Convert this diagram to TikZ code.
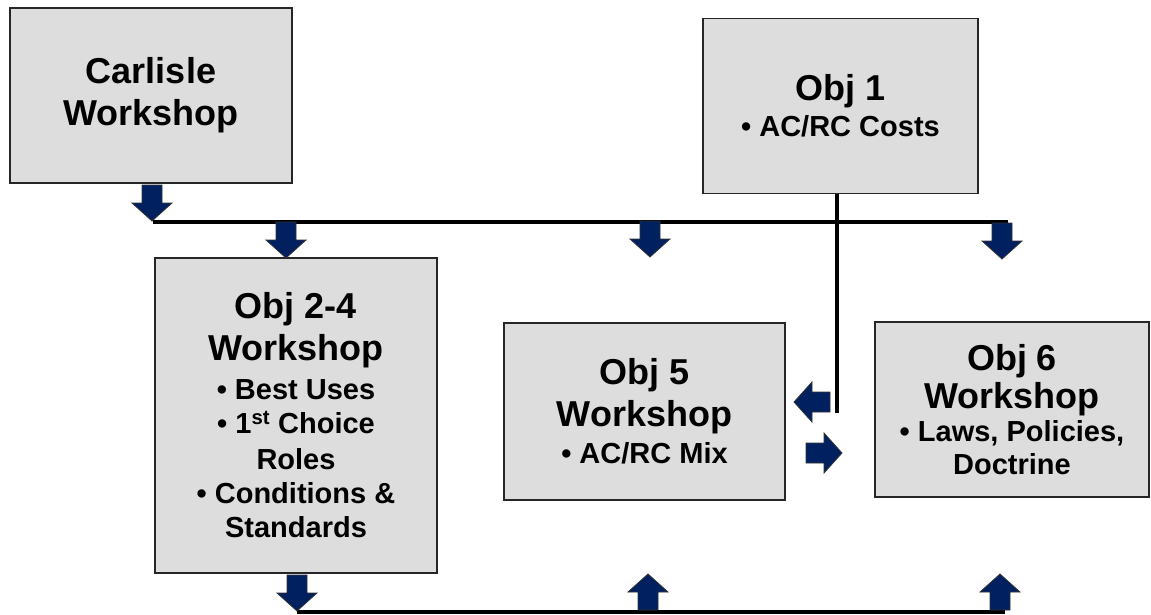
\documentclass[tikz,border=0pt]{standalone}
\usepackage{fontspec}
\setmainfont{Liberation Sans}
\usetikzlibrary{positioning}
\definecolor{navy}{RGB}{0,32,96}
\definecolor{boxgray}{RGB}{221,221,221}
\newcommand{\boxtitle}{\fontsize{36}{42}\selectfont\bfseries}
\newcommand{\boxitem}{\fontsize{29}{35}\selectfont\bfseries}

\tikzset{
  wbox/.style={draw=black!85, line width=1.5pt, fill=boxgray, align=center,
    inner sep=0pt, font=\boxtitle},
  bus/.style={line width=4pt},
  blockarrow/.pic={
    \filldraw[fill=navy, draw=black!80, line width=0.8pt]
      (0,0) -- (-20,-18) -- (-10,-18) -- (-10,-36) -- (10,-36) -- (10,-18) -- (20,-18) -- cycle;
  }
}

\begin{document}
\begin{tikzpicture}[x=1pt,y=-1pt]
\useasboundingbox (0,0) rectangle (1151,615);

% workshop boxes
\node[wbox, minimum width=282pt, minimum height=175pt] (carlisle) at (151,95.5) {Carlisle\\Workshop};
\node[wbox, minimum width=275pt, minimum height=175pt] (obj1) at (840.5,106) {Obj 1\\[-6pt]\boxitem • AC/RC Costs};
\node[wbox, minimum width=282pt, minimum height=315pt] (obj24) at (296,415.5)
  {Obj 2-4\\Workshop\\[-3pt]\boxitem • Best Uses\\[-8pt]\boxitem • 1\textsuperscript{st} Choice\\[-6pt]\boxitem Roles\\[-8pt]
   \boxitem • Conditions \&\\[-8pt]\boxitem Standards};
\node[wbox, minimum width=281pt, minimum height=177pt] (obj5) at (644.5,411.5) {Obj 5\\Workshop\\[-5pt]\boxitem • AC/RC Mix};
\node[wbox, minimum width=274pt, minimum height=175pt] (obj6) at (1012,409.5)
  {Obj 6\\[-4pt]Workshop\\[-9pt]\boxitem • Laws, Policies,\\[-9pt]\boxitem Doctrine};

% bus lines
\coordinate (topL) at (153,222);
\coordinate (topR) at (1008,222);
\coordinate (feed) at (837,413);
\coordinate (botL) at (297,612);
\coordinate (botR) at (1005,612);
\draw[bus] (topL) -- (topR);
\draw[bus] (obj1.south -| feed) -- (feed);
\draw[bus] (botL) -- (botR);

% block arrows
\pic at (152,221) {blockarrow};
\pic at (286,258) {blockarrow};
\pic at (650,257) {blockarrow};
\pic at (1002,259) {blockarrow};
\pic[rotate=-90] at (794,402) {blockarrow};
\pic[rotate=90] at (842,453) {blockarrow};
\pic at (297,611) {blockarrow};
\pic[rotate=180] at (648,574) {blockarrow};
\pic[rotate=180] at (1000,574) {blockarrow};
\end{tikzpicture}
\end{document}
